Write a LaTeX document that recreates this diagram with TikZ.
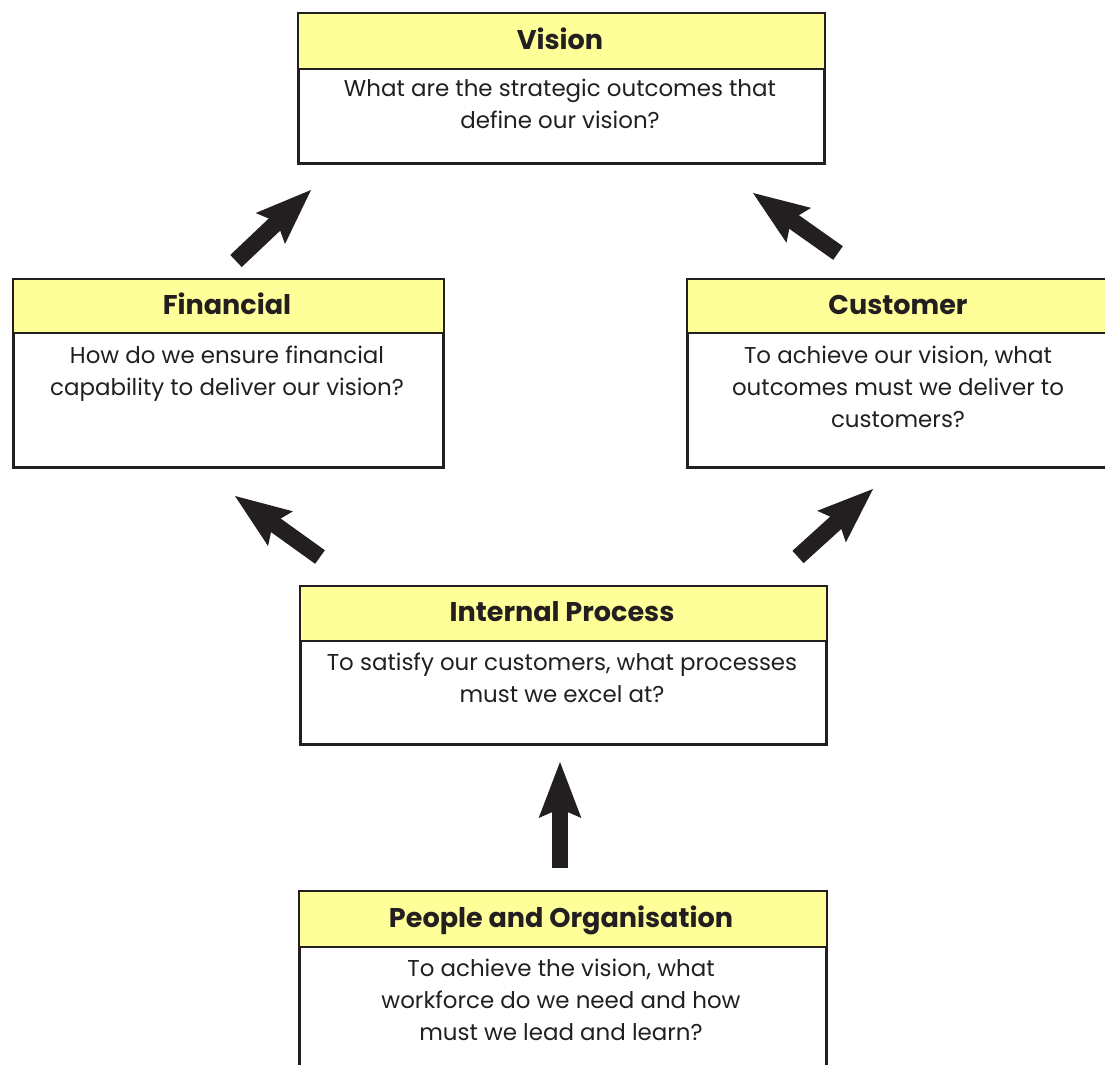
\documentclass[tikz,border=0pt]{standalone}
\usepackage{fontspec}
\setmainfont{Poppins}
\usetikzlibrary{arrows.meta}
\definecolor{ink}{HTML}{231F20}
\definecolor{hdr}{HTML}{FFFF99}
\begin{document}
\begin{tikzpicture}[x=0.75pt,y=-0.75pt,
  outer/.style={draw=ink, line width=2pt, fill=white, inner sep=0pt, anchor=north west},
  head/.style={draw=ink, line width=1.2pt, fill=hdr, inner sep=0pt, anchor=north},
  ttl/.style={font={\fontsize{20.3}{24}\selectfont\bfseries}, text=ink, inner sep=0pt, anchor=base},
  qtxt/.style={font={\fontsize{17.2}{24}\selectfont}, text=ink, inner sep=0pt, align=center, anchor=north},
  bigarrow/.style={draw=ink, line width=12.5pt, -{Stealth[length=42pt, width=32pt, inset=7pt, line width=0pt]}}]
\useasboundingbox (0,0) rectangle (1105,1064);
\clip (0,0) rectangle (1105,1064);

% Vision
\node[outer, minimum width=394.5pt, minimum height=112.5pt] (vision) at (297,12) {};
\node[head, minimum width=394.5pt, minimum height=42pt] (visionH) at (vision.north) {};
\node[ttl] (visionT) at (560,49) {Vision};
\node[qtxt] (visionQ) at (560,79) {What are the strategic outcomes that\\define our vision?};

% Financial
\node[outer, minimum width=322.5pt, minimum height=141pt] (fin) at (12,278) {};
\node[head, minimum width=322.5pt, minimum height=40.5pt] (finH) at (fin.north) {};
\node[ttl] (finT) at (227,314) {Financial};
\node[qtxt] (finQ) at (227,346) {How do we ensure financial\\capability to deliver our vision?};

% Customer
\node[outer, minimum width=322.5pt, minimum height=141pt] (cus) at (686,278) {};
\node[head, minimum width=322.5pt, minimum height=40.5pt] (cusH) at (cus.north) {};
\node[ttl] (cusT) at (898,314) {Customer};
\node[qtxt] (cusQ) at (898,346) {To achieve our vision, what\\outcomes must we deliver to\\customers?};

% Internal Process
\node[outer, minimum width=394.5pt, minimum height=118.5pt] (ip) at (299,585) {};
\node[head, minimum width=394.5pt, minimum height=41.25pt] (ipH) at (ip.north) {};
\node[ttl] (ipT) at (562,621) {Internal Process};
\node[qtxt] (ipQ) at (562,653) {To satisfy our customers, what processes\\must we excel at?};

% People and Organisation
\node[outer, minimum width=395.25pt, minimum height=150pt] (po) at (298,890) {};
\node[head, minimum width=395.25pt, minimum height=42pt] (poH) at (po.north) {};
\node[ttl] (poT) at (561,927) {People and Organisation};
\node[qtxt] (poQ) at (561,959) {To achieve the vision, what\\workforce do we need and how\\must we lead and learn?};

% arrow end points
\coordinate (a1s) at (236,261); \coordinate (a1e) at (311,190);
\coordinate (a2s) at (838,253); \coordinate (a2e) at (753,193);
\coordinate (a3s) at (320,557); \coordinate (a3e) at (235,496);
\coordinate (a4s) at (798,557); \coordinate (a4e) at (873,489);
\coordinate (a5s) at (560,868); \coordinate (a5e) at (560,762);

\draw[bigarrow] (a1s) -- (a1e);
\draw[bigarrow] (a2s) -- (a2e);
\draw[bigarrow] (a3s) -- (a3e);
\draw[bigarrow] (a4s) -- (a4e);
\draw[bigarrow] (a5s) -- (a5e);
\end{tikzpicture}
\end{document}
